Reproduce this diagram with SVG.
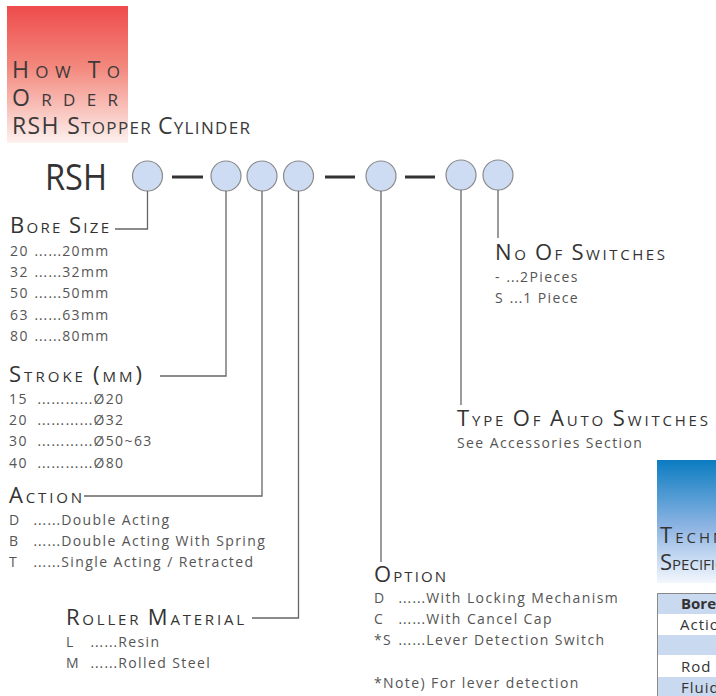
<svg xmlns="http://www.w3.org/2000/svg" width="716" height="696" viewBox="0 0 716 696">
<defs>
<linearGradient id="gRed" x1="0" y1="0" x2="0" y2="1">
<stop offset="0" stop-color="#ee4b4b"/>
<stop offset="0.45" stop-color="#f3897e"/>
<stop offset="1" stop-color="#fdf1ee"/>
</linearGradient>
<linearGradient id="gBlue" x1="0" y1="0" x2="0" y2="1">
<stop offset="0" stop-color="#0b7cc1"/>
<stop offset="0.55" stop-color="#8fb5e3"/>
<stop offset="1" stop-color="#f3f7fd"/>
</linearGradient>
<style>
text{font-family:"Open Sans","Noto Sans","Liberation Sans",sans-serif;}
.hd{font-size:15px;fill:#333;}
.hd .b{font-size:22px;}
.ti{font-size:17px;fill:#3a3a3a;}
.ti .b{font-size:23px;}
.it{font-size:14px;fill:#555;letter-spacing:1.4px;}
.it .d{font-family:"DejaVu Sans",sans-serif;font-size:13.5px;letter-spacing:0.6px;}
.ball{fill:#cddcf2;stroke:#8a8a8a;stroke-width:1.2;}
.dash{stroke:#333;stroke-width:3;}
.con{fill:none;stroke:#666;stroke-width:1.3;}
.tb{font-size:15px;fill:#333;}
</style>
</defs>

<g id="header">
<rect x="7" y="6" width="121" height="137" fill="url(#gRed)"/>
<text class="ti" x="12" y="78" textLength="108" lengthAdjust="spacing"><tspan class="b">H</tspan>OW <tspan class="b">T</tspan>O</text>
<text class="ti" x="12" y="106" textLength="106" lengthAdjust="spacing"><tspan class="b">O</tspan>RDER</text>
<text class="ti" x="12" y="134" textLength="238" lengthAdjust="spacing"><tspan class="b">RSH S</tspan>TOPPER <tspan class="b">C</tspan>YLINDER</text>
</g>

<g id="code">
<text x="45" y="190" font-size="37" fill="#333" textLength="62" lengthAdjust="spacingAndGlyphs">RSH</text>
<line class="dash" x1="172" y1="177" x2="203" y2="177"/>
<line class="dash" x1="325" y1="177" x2="355" y2="177"/>
<line class="dash" x1="405" y1="177" x2="435" y2="177"/>
</g>

<g id="ball1"><circle class="ball" cx="147.5" cy="176" r="15"/></g>
<g id="ball2"><circle class="ball" cx="226" cy="176" r="15"/></g>
<g id="ball3"><circle class="ball" cx="262" cy="176" r="15"/></g>
<g id="ball4"><circle class="ball" cx="298.5" cy="176" r="15"/></g>
<g id="ball5"><circle class="ball" cx="381" cy="176" r="15"/></g>
<g id="ball6"><circle class="ball" cx="461" cy="175" r="15"/></g>
<g id="ball7"><circle class="ball" cx="498" cy="175" r="15"/></g>

<g id="connectors">
<path class="con" d="M147.5,191 V229 H115"/>
<path class="con" d="M226,191 V376 H160"/>
<path class="con" d="M262,191 V496 H84"/>
<path class="con" d="M298.5,191 V618 H252"/>
<path class="con" d="M381,191 V562"/>
<path class="con" d="M461,190 V405"/>
<path class="con" d="M498,190 V238"/>
</g>

<g id="bore-size">
<text class="hd" x="10" y="233" textLength="99" lengthAdjust="spacing"><tspan class="b">B</tspan>ORE <tspan class="b">S</tspan>IZE</text>
<text class="it" y="256"><tspan x="10">20 </tspan><tspan x="34" class="d">……</tspan>20mm</text>
<text class="it" y="277"><tspan x="10">32 </tspan><tspan x="34" class="d">……</tspan>32mm</text>
<text class="it" y="298"><tspan x="10">50 </tspan><tspan x="34" class="d">……</tspan>50mm</text>
<text class="it" y="320"><tspan x="10">63 </tspan><tspan x="34" class="d">……</tspan>63mm</text>
<text class="it" y="341"><tspan x="10">80 </tspan><tspan x="34" class="d">……</tspan>80mm</text>
</g>

<g id="stroke">
<text class="hd" x="9" y="382" textLength="133" lengthAdjust="spacing"><tspan class="b">S</tspan>TROKE <tspan class="b">(</tspan>MM<tspan class="b">)</tspan></text>
<text class="it" y="404"><tspan x="9">15 </tspan><tspan x="37" class="d">…………</tspan>Ø20</text>
<text class="it" y="425"><tspan x="9">20 </tspan><tspan x="37" class="d">…………</tspan>Ø32</text>
<text class="it" y="446"><tspan x="9">30 </tspan><tspan x="37" class="d">…………</tspan>Ø50~63</text>
<text class="it" y="468"><tspan x="9">40 </tspan><tspan x="37" class="d">…………</tspan>Ø80</text>
</g>

<g id="action">
<text class="hd" x="9" y="503" textLength="73" lengthAdjust="spacing"><tspan class="b">A</tspan>CTION</text>
<text class="it" y="525"><tspan x="9">D </tspan><tspan x="33" class="d">……</tspan>Double Acting</text>
<text class="it" y="546"><tspan x="9">B </tspan><tspan x="33" class="d">……</tspan>Double Acting With Spring</text>
<text class="it" y="567"><tspan x="9">T </tspan><tspan x="33" class="d">……</tspan>Single Acting / Retracted</text>
</g>

<g id="roller-material">
<text class="hd" x="66" y="625" textLength="178" lengthAdjust="spacing"><tspan class="b">R</tspan>OLLER <tspan class="b">M</tspan>ATERIAL</text>
<text class="it" y="647"><tspan x="66">L </tspan><tspan x="90" class="d">……</tspan>Resin</text>
<text class="it" y="668"><tspan x="66">M </tspan><tspan x="90" class="d">……</tspan>Rolled Steel</text>
</g>

<g id="switches-no">
<text class="hd" x="495" y="260" textLength="170" lengthAdjust="spacing"><tspan class="b">N</tspan>O <tspan class="b">O</tspan>F <tspan class="b">S</tspan>WITCHES</text>
<text class="it" x="495" y="282">- <tspan class="d">…</tspan>2Pieces</text>
<text class="it" x="495" y="303">S <tspan class="d">…</tspan>1 Piece</text>
</g>

<g id="switches-type">
<text class="hd" x="457" y="426" textLength="251" lengthAdjust="spacing"><tspan class="b">T</tspan>YPE <tspan class="b">O</tspan>F <tspan class="b">A</tspan>UTO <tspan class="b">S</tspan>WITCHES</text>
<text class="it" x="457" y="448" letter-spacing="1.2">See Accessories Section</text>
</g>

<g id="option">
<text class="hd" x="374" y="582" textLength="72" lengthAdjust="spacing"><tspan class="b">O</tspan>PTION</text>
<text class="it" y="603"><tspan x="374">D </tspan><tspan x="398" class="d">……</tspan>With Locking Mechanism</text>
<text class="it" y="624"><tspan x="374">C </tspan><tspan x="398" class="d">……</tspan>With Cancel Cap</text>
<text class="it" y="645"><tspan x="374">*S</tspan><tspan x="398" class="d">……</tspan>Lever Detection Switch</text>
<text class="it" x="374" y="688">*Note) For lever detection</text>
</g>

<g id="tech-spec">
<rect x="657" y="460" width="59" height="123" fill="url(#gBlue)"/>
<text class="hd" x="660" y="543" letter-spacing="3"><tspan class="b">T</tspan>ECHNICAL</text>
<text class="hd" x="660" y="570" font-size="13"><tspan class="b" font-size="20">S</tspan>PECIFICATIONS</text>
<rect x="657" y="593" width="59" height="21" fill="#c9d9ef"/>
<rect x="657" y="614" width="59" height="21" fill="#ffffff"/>
<rect x="657" y="635" width="59" height="20" fill="#c9d9ef"/>
<rect x="657" y="655" width="59" height="21" fill="#ffffff"/>
<rect x="657" y="677" width="59" height="19" fill="#c9d9ef"/>
<path d="M657.5,696 V593.5 H716" fill="none" stroke="#888" stroke-width="1"/>
<text class="tb" x="681" y="609" font-weight="bold">Bore</text>
<text class="tb" x="680" y="630" letter-spacing="1">Action</text>
<text class="tb" x="681" y="672" letter-spacing="1">Rod</text>
<text class="tb" x="681" y="693" letter-spacing="1">Fluid</text>
</g>
</svg>
